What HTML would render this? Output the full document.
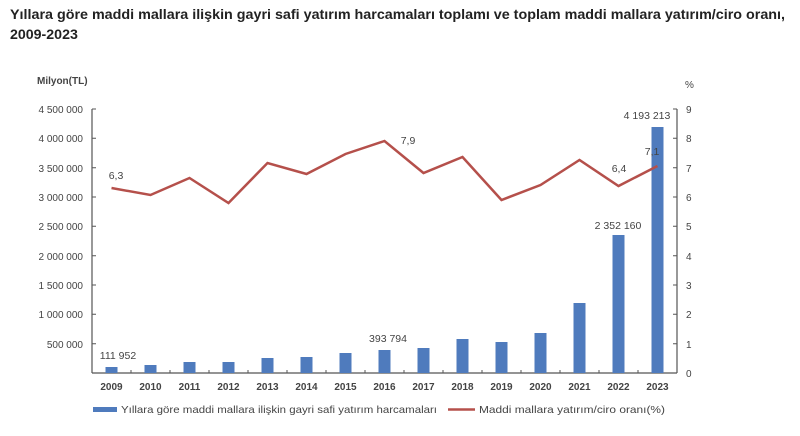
<!DOCTYPE html>
<html><head><meta charset="utf-8"><style>
body{margin:0;background:#fff;width:800px;height:431px;overflow:hidden;font-family:"Liberation Sans",sans-serif}
</style></head><body>
<svg width="800" height="431" xmlns="http://www.w3.org/2000/svg" font-family="Liberation Sans, sans-serif">
<text x="10" y="19" font-size="14.2" font-weight="bold" fill="#222" textLength="775" lengthAdjust="spacingAndGlyphs">Yıllara göre maddi mallara ilişkin gayri safi yatırım harcamaları toplamı ve toplam maddi mallara yatırım/ciro oranı,</text>
<text x="10" y="39" font-size="14.2" font-weight="bold" fill="#222">2009-2023</text>
<text x="37" y="84" font-size="10" font-weight="bold" fill="#444">Milyon(TL)</text>
<text x="685" y="88" font-size="10" fill="#444">%</text>
<g stroke="#555" stroke-width="1.2" fill="none">
<line x1="92" y1="109" x2="92" y2="373"/>
<line x1="677" y1="109" x2="677" y2="373"/>
<line x1="92" y1="373" x2="677" y2="373"/>
</g>
<g stroke="#555" stroke-width="1">
<path d="M92 109h4M92 138.3h4M92 167.7h4M92 197h4M92 226.3h4M92 255.7h4M92 285h4M92 314.3h4M92 343.7h4"/>
<path d="M677 109h-4M677 138.3h-4M677 167.7h-4M677 197h-4M677 226.3h-4M677 255.7h-4M677 285h-4M677 314.3h-4M677 343.7h-4"/>
<path d="M131 373v-3M170 373v-3M209 373v-3M248 373v-3M287 373v-3M326 373v-3M365 373v-3M404 373v-3M443 373v-3M482 373v-3M521 373v-3M560 373v-3M599 373v-3M638 373v-3"/>
</g>
<g font-size="10" fill="#444" text-anchor="end">
<text x="83" y="113">4 500 000</text><text x="83" y="142">4 000 000</text><text x="83" y="172">3 500 000</text><text x="83" y="201">3 000 000</text><text x="83" y="230">2 500 000</text><text x="83" y="260">2 000 000</text><text x="83" y="289">1 500 000</text><text x="83" y="318">1 000 000</text><text x="83" y="348">500 000</text>
</g>
<g font-size="10" fill="#444">
<text x="686" y="113">9</text><text x="686" y="142">8</text><text x="686" y="172">7</text><text x="686" y="201">6</text><text x="686" y="230">5</text><text x="686" y="260">4</text><text x="686" y="289">3</text><text x="686" y="318">2</text><text x="686" y="348">1</text><text x="686" y="377">0</text>
</g>
<g fill="#4f7bbd">
<rect x="105.5" y="367" width="12" height="6"/><rect x="144.5" y="365" width="12" height="8"/><rect x="183.5" y="362" width="12" height="11"/><rect x="222.5" y="362" width="12" height="11"/><rect x="261.5" y="358" width="12" height="15"/><rect x="300.5" y="357" width="12" height="16"/><rect x="339.5" y="353" width="12" height="20"/><rect x="378.5" y="350" width="12" height="23"/><rect x="417.5" y="348" width="12" height="25"/><rect x="456.5" y="339" width="12" height="34"/><rect x="495.5" y="342" width="12" height="31"/><rect x="534.5" y="333" width="12" height="40"/><rect x="573.5" y="303" width="12" height="70"/><rect x="612.5" y="235" width="12" height="138"/><rect x="651.5" y="127" width="12" height="246"/>
</g>
<polyline fill="none" stroke="#b5504b" stroke-width="2.5" points="111.5,188 150.5,195 189.5,178 228.5,203 267.5,163 306.5,174 345.5,154 384.5,141 423.5,173 462.5,157 501.5,200 540.5,185 579.5,160 618.5,186 657.5,166"/>
<g font-size="10.5" fill="#444" text-anchor="middle">
<text x="116" y="179">6,3</text><text x="408" y="144">7,9</text><text x="619" y="172">6,4</text><text x="652" y="155">7,1</text>
<text x="118" y="359">111 952</text><text x="388" y="342">393 794</text><text x="618" y="229">2 352 160</text><text x="647" y="119">4 193 213</text>
</g>
<g font-size="10" font-weight="bold" fill="#444" text-anchor="middle">
<text x="111.5" y="390">2009</text><text x="150.5" y="390">2010</text><text x="189.5" y="390">2011</text><text x="228.5" y="390">2012</text><text x="267.5" y="390">2013</text><text x="306.5" y="390">2014</text><text x="345.5" y="390">2015</text><text x="384.5" y="390">2016</text><text x="423.5" y="390">2017</text><text x="462.5" y="390">2018</text><text x="501.5" y="390">2019</text><text x="540.5" y="390">2020</text><text x="579.5" y="390">2021</text><text x="618.5" y="390">2022</text><text x="657.5" y="390">2023</text>
</g>
<rect x="93" y="407" width="24" height="5" fill="#4f7bbd"/>
<text x="121" y="413" font-size="10.5" fill="#444" textLength="316" lengthAdjust="spacingAndGlyphs">Yıllara göre maddi mallara ilişkin gayri safi yatırım harcamaları</text>
<line x1="448" y1="409.5" x2="475" y2="409.5" stroke="#b5504b" stroke-width="2.5"/>
<text x="479" y="413" font-size="10.5" fill="#444" textLength="186" lengthAdjust="spacingAndGlyphs">Maddi mallara yatırım/ciro oranı(%)</text>
</svg>
</body></html>
